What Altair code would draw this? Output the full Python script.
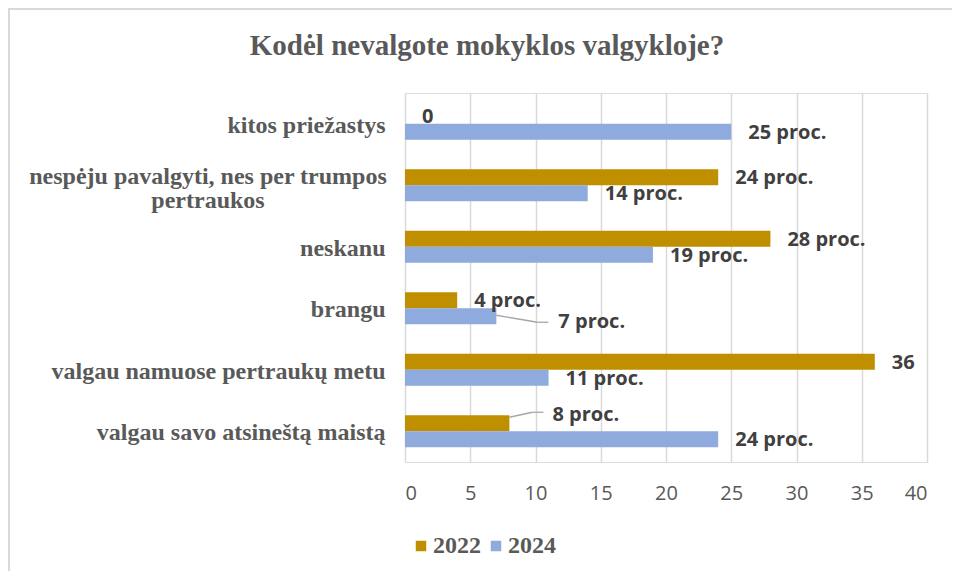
import altair as alt
import pandas as pd

# ---- data ----
categories = [
    "kitos priežastys",
    "nespėju pavalgyti, nes per trumpos pertraukos",
    "neskanu",
    "brangu",
    "valgau namuose pertraukų metu",
    "valgau savo atsineštą maistą",
]
years = ["2022", "2024"]
values_2022 = [0, 24, 28, 4, 36, 8]
values_2024 = [25, 14, 19, 7, 11, 24]
labels_2022 = ["0", "24 proc.", "28 proc.", "4 proc.", "36", "8 proc."]
labels_2024 = ["25 proc.", "14 proc.", "19 proc.", "7 proc.", "11 proc.", "24 proc."]
x_ticks = [0, 5, 10, 15, 20, 25, 30, 35, 40]
title_text = "Kodėl nevalgote mokyklos valgykloje?"

rows = []
for i, c in enumerate(categories):
    rows.append({"cat": c, "year": years[0], "value": values_2022[i], "label": labels_2022[i]})
    rows.append({"cat": c, "year": years[1], "value": values_2024[i], "label": labels_2024[i]})
df = pd.DataFrame(rows)

# ---- styling ----
GOLD = "#BF8F00"
BLUE = "#8FAADC"
GREY_TXT = "#595959"
LABEL_TXT = "#404040"
GRID = "#D9D9D9"
LEADER = "#A6A6A6"
SERIF = "Liberation Serif"
SANS = "Open Sans"

PLOT_W, PLOT_H = 522, 369
PAD_INNER, PAD_OUTER = 0.48, 0.24
# half of a year sub-band, in px (offset of each year's bar centre from the category centre)
SUB_SHIFT = PLOT_H / len(categories) * (1 - PAD_INNER) / 4
year_shift = {years[0]: -SUB_SHIFT, years[1]: SUB_SHIFT}

# moved data labels with leader lines (pixel nudges): label dx/dy, leader start dy, elbow dx/dy, end dx
callouts = {
    ("brangu", "2024"): dict(ldx=62, ldy=6, sdy=-1, edx=41, edy=6, tdx=52),
    ("valgau savo atsineštą maistą", "2022"): dict(ldx=43, ldy=-8, sdy=-6, edx=23, edy=-11, tdx=34),
}

long_cat = categories[1]
wrap_after = "trumpos "

y_enc = alt.Y(
    "cat:N",
    sort=categories,
    title=None,
    scale=alt.Scale(paddingInner=PAD_INNER, paddingOuter=PAD_OUTER),
    axis=alt.Axis(
        labelExpr=f"datum.label == '{long_cat}' ? '' : datum.label",
        labelFont=SERIF,
        labelFontSize=24,
        labelFontWeight="bold",
        labelColor=GREY_TXT,
        labelPadding=20,
        labelOffset=2,
        labelLimit=500,
        ticks=False,
        domain=False,
        grid=False,
    ),
)
yoff_enc = alt.YOffset("year:N", sort=years, scale=alt.Scale(paddingInner=0, paddingOuter=0))
x_enc = alt.X(
    "value:Q",
    title=None,
    scale=alt.Scale(domain=[0, 40], nice=False),
    axis=alt.Axis(
        values=x_ticks,
        grid=True,
        gridColor=GRID,
        gridWidth=1.5,
        ticks=False,
        domain=False,
        labelFont=SANS,
        labelFontSize=20,
        labelColor=GREY_TXT,
        labelPadding=31,
        labelBaseline="middle",
    ),
)

base = alt.Chart(df)

bars = base.mark_bar().encode(
    x=x_enc,
    y=y_enc,
    yOffset=yoff_enc,
    color=alt.Color(
        "year:N",
        sort=years,
        scale=alt.Scale(domain=years, range=[GOLD, BLUE]),
        legend=alt.Legend(
            title=None,
            orient="none",
            legendX=4,
            legendY=441,
            direction="horizontal",
            symbolType="square",
            symbolSize=110,
            symbolStrokeWidth=0,
            labelFont=SERIF,
            labelFontSize=24,
            labelFontWeight="bold",
            labelColor=GREY_TXT,
            labelOffset=0,
            columnPadding=3,
        ),
    ),
)

def is_callout_expr():
    parts = [f"(datum.cat == '{c}' && datum.year == '{y}')" for (c, y) in callouts]
    return " || ".join(parts)

text_style = dict(align="left", baseline="middle", font=SANS, fontWeight="bold", fontSize=20, color=LABEL_TXT)
ycat = alt.Y("cat:N", sort=categories)
yoff = alt.YOffset("year:N", sort=years)

labels_main = base.transform_filter(f"!({is_callout_expr()})").mark_text(dx=17, dy=1, **text_style).encode(
    x="value:Q", y=ycat, yOffset=yoff, text="label:N"
)

layers = [bars, labels_main]
for (c, y), o in callouts.items():
    f = base.transform_filter(f"datum.cat == '{c}' && datum.year == '{y}'")
    sh = year_shift[y]
    layers.append(
        f.mark_text(dx=o["ldx"], dy=o["ldy"], **text_style).encode(
            x="value:Q", y=ycat, yOffset=yoff, text="label:N"
        )
    )
    # slanted part of the leader (both ends measured from the category centre)
    layers.append(
        f.mark_rule(color=LEADER, strokeWidth=1.3, x2Offset=o["edx"],
                    yOffset=o["sdy"] + sh, y2Offset=o["edy"] + sh).encode(
            x="value:Q", x2=alt.X2("value:Q"), y=ycat, y2=alt.Y2("cat:N"),
        )
    )
    # horizontal part of the leader
    layers.append(
        f.mark_rule(color=LEADER, strokeWidth=1.3, xOffset=o["edx"], x2Offset=o["tdx"],
                    yOffset=o["edy"] + sh).encode(
            x="value:Q", x2=alt.X2("value:Q"), y=ycat,
        )
    )

# wrapped, centred category label (as in the reference)
long_label = (
    alt.Chart(pd.DataFrame({"cat": categories}))
    .transform_filter(f"datum.cat == '{long_cat}'")
    .transform_calculate(txt=f"replace(datum.cat, '{wrap_after}', '{wrap_after.strip()}|')")
    .mark_text(
        align="center", baseline="middle", lineBreak="|", lineHeight=24, dy=-8,
        font=SERIF, fontSize=24, fontWeight="bold", color=GREY_TXT,
    )
    .encode(x=alt.value(-197), y=ycat, text="txt:N")
)
layers.append(long_label)

title_df = pd.DataFrame({"t": [title_text]})
title = alt.Chart(title_df).mark_text(
    align="center", baseline="middle", font=SERIF, fontSize=29, fontWeight="bold", color=GREY_TXT
).encode(x=alt.value(82), y=alt.value(-47), text="t:N")
layers.append(title)

frame_df = pd.DataFrame({"k": [0]})
frame_top = alt.Chart(frame_df).mark_rule(color=GRID, strokeWidth=2).encode(
    x=alt.value(-397), x2=alt.value(547), y=alt.value(-84)
)
frame_left = alt.Chart(frame_df).mark_rule(color=GRID, strokeWidth=2).encode(
    x=alt.value(-396), y=alt.value(-85), y2=alt.value(478)
)
layers += [frame_top, frame_left]

chart = (
    alt.layer(*layers)
    .properties(
        width=PLOT_W,
        height=PLOT_H,
        autosize=alt.AutoSizeParams(type="none"),
        padding={"left": 397, "top": 85, "right": 25, "bottom": 109},
    )
    .configure_view(stroke=None)
    .configure(background="white")
)

chart.save("out.html", embed_options={"renderer": "svg", "actions": False})
